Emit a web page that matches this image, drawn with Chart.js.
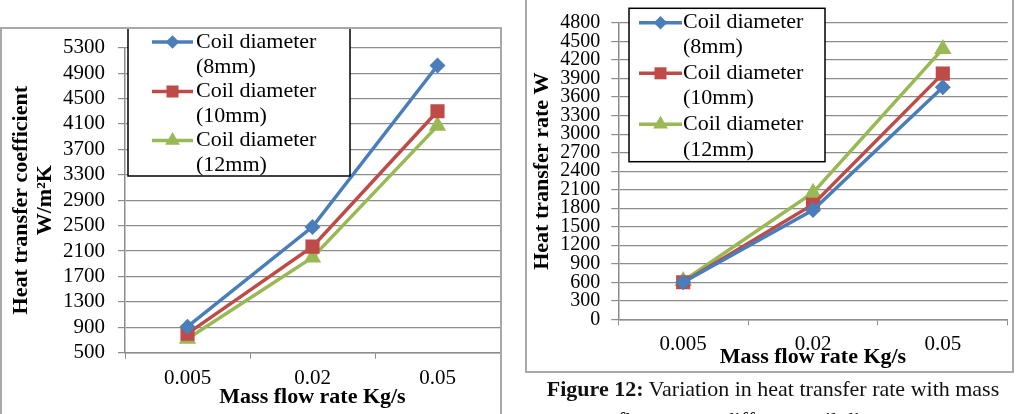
<!DOCTYPE html>
<html>
<head>
<meta charset="utf-8">
<script src="https://cdn.jsdelivr.net/npm/chart.js@4/dist/chart.umd.min.js"></script>
<style>
  body { margin:0; background:#fff; width:1021px; height:414px; overflow:hidden; position:relative; }
  canvas { position:absolute; top:0; }
  #c1 { left:0; }
  #c2 { left:510px; }
  .frame { position:absolute; border:2px solid #a8a8a8; box-sizing:border-box; pointer-events:none; }
  #caption { position:absolute; left:526px; width:494px; top:373px; text-align:center;
    font-family:"Liberation Serif","Times New Roman",serif; font-size:22px; line-height:31px; color:#111; }
</style>
</head>
<body>
<canvas id="c1" width="510" height="414"></canvas>
<canvas id="c2" width="511" height="414"></canvas>
<div class="frame" style="left:0;top:27px;width:502px;height:400px;"></div>
<div class="frame" style="left:525px;top:-10px;width:489px;height:383px;"></div>
<div id="caption"><b>Figure 12:</b> Variation in heat transfer rate with mass<br>flow rate at different coil diameters</div>
<script>
// data
const massFlow = ['0.005', '0.02', '0.05'];
const seriesNames = [['Coil diameter', '(8mm)'], ['Coil diameter', '(10mm)'], ['Coil diameter', '(12mm)']];

const htc8mm  = [910, 2480, 5020];
const htc10mm = [800, 2170, 4300];
const htc12mm = [720, 2000, 4070];

const htr8mm  = [600, 1770, 3760];
const htr10mm = [600, 1860, 3980];
const htr12mm = [620, 2050, 4380];

const htcTicks = [500, 900, 1300, 1700, 2100, 2500, 2900, 3300, 3700, 4100, 4500, 4900, 5300];
const htrTicks = [0, 300, 600, 900, 1200, 1500, 1800, 2100, 2400, 2700, 3000, 3300, 3600, 3900, 4200, 4500, 4800];

const colors = ['#4a7ebb', '#be4b48', '#98b954'];
const shapes = ['rectRot', 'rect', 'triangle'];
const radii = [8, 10, 10];
const serif = 'Liberation Serif';
const gridColor = '#8c8c8c';

function makeSets(values){
  return values.map((v, i) => ({
    label: seriesNames[i].join(' '),
    data: v,
    borderColor: colors[i],
    backgroundColor: colors[i],
    borderWidth: 3.5,
    pointStyle: shapes[i],
    pointRadius: radii[i],
    pointBorderWidth: 0,
    tension: 0
  }));
}

// legend box drawn over the plot, with line + marker samples
const boxLegend = {
  id: 'boxLegend',
  afterDatasetsDraw(chart, args, opts){
    const ctx = chart.ctx;
    const [x1, y1, x2, y2] = opts.box;
    ctx.save();
    ctx.fillStyle = '#fff';
    ctx.fillRect(x1, y1, x2 - x1, y2 - y1);
    ctx.strokeStyle = '#000';
    ctx.lineWidth = 1.5;
    ctx.strokeRect(x1, y1, x2 - x1, y2 - y1);
    ctx.font = opts.fontSize + 'px "' + serif + '"';
    ctx.textBaseline = 'middle';
    ctx.textAlign = 'left';
    chart.data.datasets.forEach((ds, i) => {
      const y = opts.rows[i * 2];
      ctx.strokeStyle = ds.borderColor;
      ctx.lineWidth = 3.5;
      ctx.beginPath();
      ctx.moveTo(opts.sample[0], y);
      ctx.lineTo(opts.sample[1], y);
      ctx.stroke();
      const cx = (opts.sample[0] + opts.sample[1]) / 2;
      const r = ds.pointRadius * 0.85;
      ctx.fillStyle = ds.backgroundColor;
      ctx.beginPath();
      if (ds.pointStyle === 'rectRot') {
        ctx.moveTo(cx, y - r); ctx.lineTo(cx + r, y); ctx.lineTo(cx, y + r); ctx.lineTo(cx - r, y);
      } else if (ds.pointStyle === 'rect') {
        const s = r * Math.SQRT1_2;
        ctx.rect(cx - s, y - s, 2 * s, 2 * s);
      } else {
        ctx.moveTo(cx, y - r); ctx.lineTo(cx + r * 0.866, y + r / 2); ctx.lineTo(cx - r * 0.866, y + r / 2);
      }
      ctx.closePath();
      ctx.fill();
      ctx.fillStyle = '#000';
      seriesNames[i].forEach((t, k) => ctx.fillText(t, opts.textX, opts.rows[i * 2 + k]));
    });
    ctx.restore();
  }
};

function makeChart(id, values, ticks, o){
  return new Chart(document.getElementById(id), {
    type: 'line',
    data: { labels: massFlow, datasets: makeSets(values) },
    plugins: [boxLegend],
    options: {
      responsive: false,
      animation: false,
      layout: { padding: o.padding },
      plugins: {
        legend: { display: false },
        tooltip: { enabled: false },
        boxLegend: o.legend
      },
      scales: {
        x: {
          type: 'category',
          offset: true,
          grid: { drawOnChartArea: false, drawTicks: true, tickLength: 6, color: gridColor, offset: true },
          border: { color: gridColor, width: 1.5 },
          ticks: { color: '#000', padding: 7, font: { family: serif, size: 21 } },
          title: { display: true, text: 'Mass flow rate Kg/s', color: '#000',
                   font: { family: serif, size: 22, weight: 'bold' }, padding: { top: 0, bottom: o.xTitlePad } },
          afterFit: s => { s.height = o.xHeight; }
        },
        y: {
          min: ticks[0],
          max: ticks[ticks.length - 1],
          afterBuildTicks: s => { s.ticks = ticks.map(v => ({ value: v })); },
          grid: { color: gridColor, lineWidth: 1.2, tickLength: 7 },
          border: { color: gridColor, width: 1.5 },
          ticks: { color: '#000', padding: o.yTickPad, autoSkip: false, callback: v => String(v),
                   font: { family: serif, size: o.yTickSize } },
          title: { display: true, text: o.yTitle, color: '#000',
                   font: { family: serif, size: 22, weight: 'bold', lineHeight: 1.1 }, padding: { top: o.yTitlePad, bottom: 0 } },
          afterFit: s => { s.width = o.yWidth; }
        }
      }
    }
  });
}

makeChart('c1', [htc8mm, htc10mm, htc12mm], htcTicks, {
  padding: { top: 47.7, right: 10, bottom: 0, left: 0 },
  xHeight: 61.3, xTitlePad: 3,
  yWidth: 125, yTickPad: 13, yTickSize: 21, yTitlePad: 9,
  yTitle: ['Heat transfer coefficient', 'W/m\u00b2K'],
  legend: { box: [128, 28, 350, 176], sample: [152, 193], textX: 196, fontSize: 22,
            rows: [42, 67, 91.5, 116, 140.5, 165] }
});

makeChart('c2', [htr8mm, htr10mm, htr12mm], htrTicks, {
  padding: { top: 11.7, right: 13.3, bottom: 42, left: 0 },
  xHeight: 52.7, xTitlePad: 1,
  yWidth: 108.3, yTickPad: 11, yTickSize: 20, yTitlePad: 20,
  yTitle: 'Heat transfer rate W',
  legend: { box: [119, 8.3, 315, 161.7], sample: [129, 172], textX: 173, fontSize: 22,
            rows: [22.7, 47.3, 73.3, 98.3, 124.3, 150] }
});
</script>
</body>
</html>
